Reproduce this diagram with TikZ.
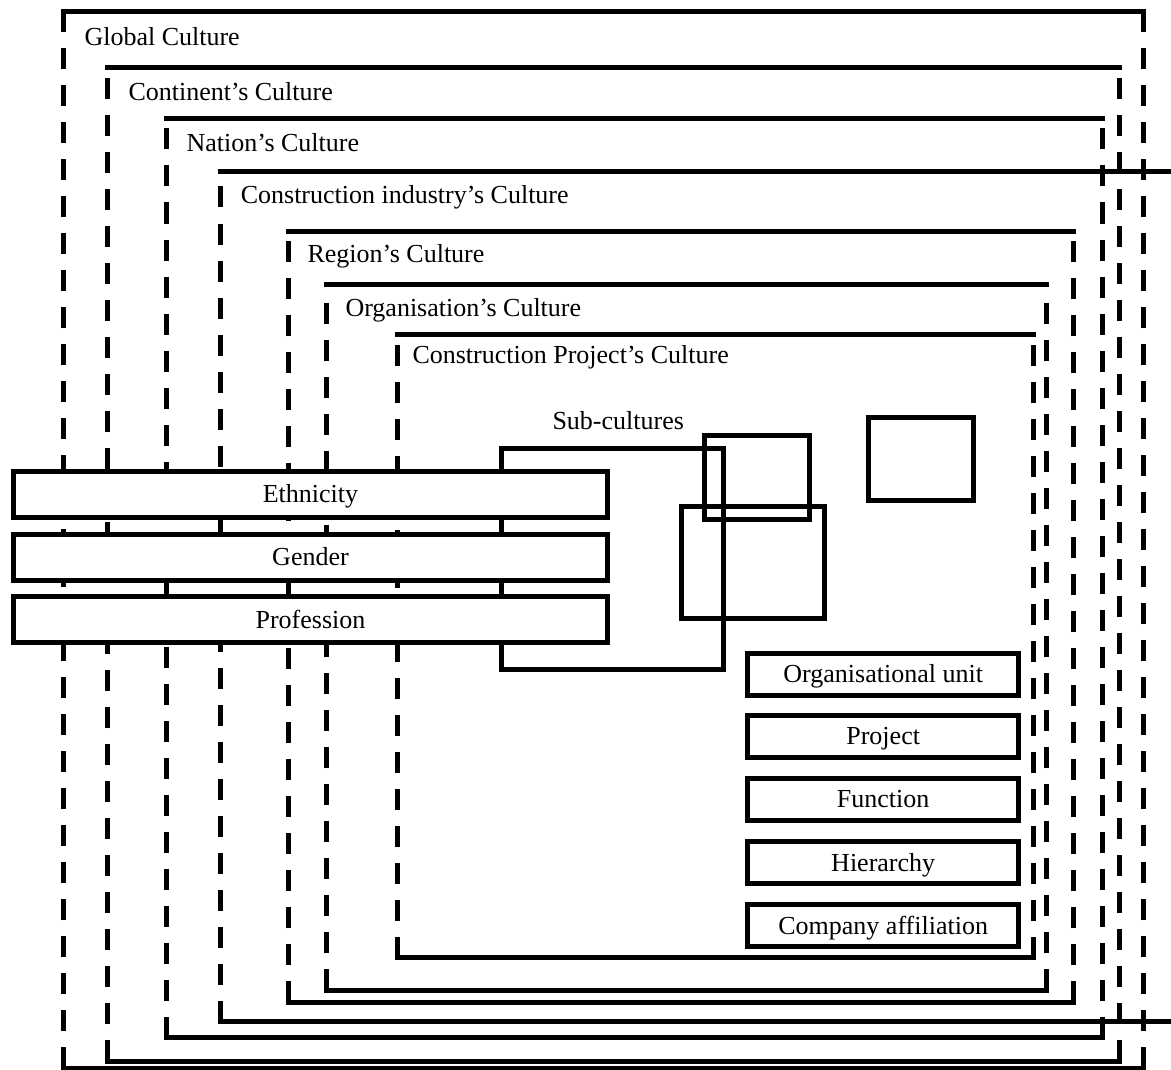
\documentclass[tikz,border=0pt]{standalone}
\usepackage{fontspec}
\setmainfont{Liberation Serif}
\begin{document}
\begin{tikzpicture}[x=1pt,y=-1pt,line width=5pt,
  edge/.style={line cap=rect},
  fence/.style={dash pattern=on 21pt off 16pt},
  lbl/.style={anchor=base west,inner sep=0pt,font=\fontsize{26}{30}\selectfont},
  bar/.style={draw,fill=white,inner sep=0pt,minimum width=594pt,minimum height=46pt,
    text height=17pt,text depth=0pt,font=\fontsize{26}{30}\selectfont},
  tag/.style={draw,fill=white,inner sep=0pt,minimum width=271.5pt,minimum height=42pt,
    text height=17pt,text depth=0pt,font=\fontsize{26}{30}\selectfont}]
\useasboundingbox (0,0) rectangle (1171,1070);

% nested culture levels: solid top and bottom, dashed sides
\foreach \n/\l/\t/\r/\b in {global/63.5/12/1143/1068,
                           continent/107/67.5/1119/1061,
                           nation/166.5/119/1102/1037.5,
                           region/288/231.5/1073/1002,
                           organisation/326.5/284.5/1046/990,
                           project/397/334/1033/957.5}{
  \coordinate (\n-tl) at (\l,\t);
  \coordinate (\n-tr) at (\r,\t);
  \coordinate (\n-bl) at (\l,\b);
  \coordinate (\n-br) at (\r,\b);
  \draw[edge] (\n-tl) -- (\n-tr);
  \draw[edge] (\n-bl) -- (\n-br);
  \draw[fence] (\n-bl) -- (\n-tl);
  \draw[fence] (\n-br) -- (\n-tr);
}

% the construction industry level is open to the right
\coordinate (industry-tl) at (220,172);
\coordinate (industry-tr) at (1180,172);
\coordinate (industry-bl) at (220,1021.5);
\coordinate (industry-br) at (1180,1021.5);
\draw[edge] (industry-tl) -- (industry-tr);
\draw[edge] (industry-bl) -- (industry-br);
\draw[fence] (industry-bl) -- (industry-tl);

% level titles
\node[lbl] (global-title)       at (82,45.7)    {Global Culture};
\node[lbl] (continent-title)    at (126,100.7)  {Continent’s Culture};
\node[lbl] (nation-title)       at (184,151.7)  {Nation’s Culture};
\node[lbl] (industry-title)     at (238.3,204)  {Construction industry’s Culture};
\node[lbl] (region-title)       at (305,262.7)  {Region’s Culture};
\node[lbl] (organisation-title) at (343,316.7)  {Organisation’s Culture};
\node[lbl] (project-title)      at (410,363.3)  {Construction Project’s Culture};
\node[lbl] (sub-title)          at (550,429.3)  {Sub-cultures};

% sub-culture groupings
\draw (501.7,448) rectangle (723.5,669);
\draw (704.5,435.5) rectangle (809.5,519.5);
\draw (681,506) rectangle (824,618);
\draw (868,417) rectangle (973.3,500);

% cross-cutting attributes
\node[bar] (ethnicity)  at (310.5,494)   {Ethnicity};
\node[bar] (gender)     at (310.5,557)   {Gender};
\node[bar] (profession) at (310.5,619.5) {Profession};

% project-level sub-culture dimensions
\node[tag] (orgunit)   at (883.2,674)   {Organisational unit};
\node[tag] (projdim)   at (883.2,736)   {Project};
\node[tag] (function)  at (883.2,799)   {Function};
\node[tag] (hierarchy) at (883.2,862.5) {Hierarchy};
\node[tag] (company)   at (883.2,925.5) {Company affiliation};
\end{tikzpicture}
\end{document}
